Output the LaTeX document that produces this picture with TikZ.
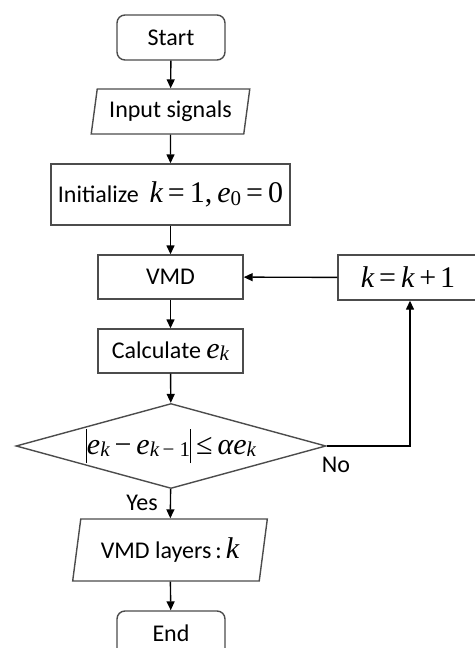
\documentclass[tikz,border=0pt]{standalone}
\usepackage{fontspec}
\setmainfont{Carlito}
\newfontfamily\mathserif{Liberation Serif}
\usetikzlibrary{arrows.meta, shapes.geometric}

% serif italic letters for the formulas
\newcommand{\mf}{\fontsize{15}{17}\selectfont}
\newcommand{\mv}[1]{{\mathserif\mf\itshape #1}}
\newcommand{\mn}[1]{{\mathserif\mf #1}}
\newcommand{\sub}[1]{\raisebox{-1.2pt}{\mathserif\itshape\fontsize{10.5}{12}\selectfont #1}}
\newcommand{\gap}{\hspace{2.5pt}}

\tikzset{
  termbox/.style={draw=black!70, line width=0.7pt, rounded corners=4pt,
    minimum width=54pt, minimum height=22.5pt, inner sep=0pt},
  procbox/.style={draw=black!70, line width=0.7pt, minimum width=#1,
    minimum height=22pt, inner sep=0pt},
  iobox/.style={draw=black!70, line width=0.7pt, trapezium,
    trapezium stretches=true,
    trapezium left angle=#1, trapezium right angle={180-#1}},
  decbox/.style={draw=black!70, line width=0.7pt, diamond, aspect=3.65,
    minimum width=155pt, minimum height=42.5pt, inner sep=0pt},
  flow/.style={-{Triangle[length=4.5pt, width=4pt]}, line width=0.7pt}
}

\begin{document}
\begin{tikzpicture}[x=0.5pt, y=-0.5pt, font=\fontsize{12}{14}\selectfont]
  \useasboundingbox (0,0) rectangle (475,648);

  % --- main column ---
  \node[termbox] (start) at (171,37.5) {Start};
  \node[iobox=80, minimum height=22.5pt, inner xsep=6pt] (input) at (170.5,111.5) {Input signals};
  \node[procbox=119.5pt, minimum height=30.5pt] (init) at (170.5,194.5)
    {Initialize\ \ \mv{k}\gap\mn{=\gap 1,\,}\mv{e}\sub{\upshape 0}\gap\mn{=\gap 0}};
  \node[procbox=72.5pt] (vmd) at (170.5,277) {VMD};
  \node[procbox=72.5pt] (calc) at (170.5,351) {Calculate \mv{e}\sub{k}};
  \node[decbox] (check) at (171,446)
    {\raisebox{-4.5pt}{\rule{0.5pt}{17pt}}\mv{e}\sub{k}\gap\mn{−}\gap\mv{e}\sub{k\,\upshape − 1}\raisebox{-4.5pt}{\rule{0.5pt}{17pt}}\gap\mn{≤}\gap\mv{α}\mv{e}\sub{k}};
  \node[iobox=78, minimum height=31pt, inner xsep=10pt] (layers) at (170,550)
    {VMD layers\,:\,\mv{k}};
  \node[termbox] (finish) at (171,633.5) {End};

  % --- loop box ---
  \node[procbox=70pt, minimum height=22.5pt] (kinc) at (408,277.5)
    {\mv{k}\gap\mn{=}\gap\mv{k}\gap\mn{+}\,\mn{1}};
  \coordinate (turn) at (410,446);

  % Arrows
  \draw[flow] (start) -- (input);
  \draw[flow] (input) -- (init);
  \draw[flow] (init) -- (vmd);
  \draw[flow] (vmd) -- (calc);
  \draw[flow] (calc) -- (check);
  \draw[flow] (check) -- (layers);
  \draw[flow] (layers) -- (finish);
  \draw[flow] (check.east) -- (turn) -- (turn |- kinc.south);
  \draw[flow] (kinc) -- (vmd);

  % Labels
  \node (nolbl) at (336,465) {No};
  \node (yeslbl) at (142,503) {Yes};

\end{tikzpicture}
\end{document}
